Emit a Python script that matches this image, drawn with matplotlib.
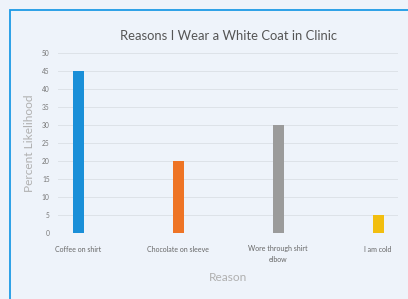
import matplotlib.pyplot as plt
from matplotlib.patches import Rectangle

reasons = ['Coffee on shirt', 'Chocolate on sleeve', 'Wore through shirt\nelbow', 'I am cold']
likelihood = [45, 20, 30, 5]
bar_colors = ['#1a8fd8', '#ee7425', '#9b9b9b', '#f2be0f']
yticks = [0, 5, 10, 15, 20, 25, 30, 35, 40, 45, 50]

plt.rcParams['font.family'] = ['Lato', 'DejaVu Sans']

bg = '#eef3fa'
fig = plt.figure(figsize=(4.08, 2.99), dpi=100, facecolor=bg)

# blue frame around the chart, runs off the right and bottom edge
fig.patches.append(Rectangle((9.5/408, -0.1), 1.2, 1 - 9.5/299 + 0.1, transform=fig.transFigure,
                             fill=False, edgecolor='#1c9ae6', linewidth=1.3))

ax = fig.add_axes([58/408, 1 - 233/299, 340/408, 180/299])
ax.set_facecolor(bg)
x = range(len(reasons))
ax.bar(x, likelihood, width=0.11, color=bar_colors, zorder=3)

ax.set_xlim(-0.2, 3.2)
ax.set_ylim(0, 50)
ax.set_yticks(yticks)
ax.set_xticks(list(x))
ax.set_xticklabels(reasons, fontsize=5, color='#666666', linespacing=1.5)
ax.tick_params(axis='y', labelsize=4.8, labelcolor='#777777', length=0, pad=6)
ax.tick_params(axis='x', length=0, pad=9)
ax.grid(axis='y', color='#dde2e8', linewidth=0.7, zorder=0)
for s in ax.spines.values():
    s.set_visible(False)

ax.set_title('Reasons I Wear a White Coat in Clinic', fontsize=9.4, color='#555555', pad=9)
ax.set_ylabel('Percent Likelihood', fontsize=8.6, color='#b0b0b0', labelpad=5)
ax.set_xlabel('Reason', fontsize=8.6, color='#b0b0b0', labelpad=7)

fig.savefig('out.png', dpi=100, facecolor=bg)
